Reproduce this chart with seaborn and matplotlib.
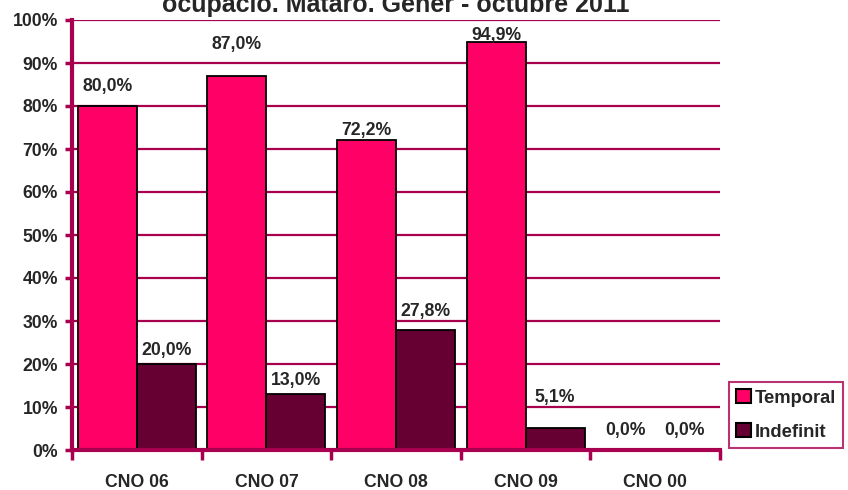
import matplotlib
matplotlib.use("Agg")
import matplotlib.pyplot as plt
import seaborn as sns
import pandas as pd
import numpy as np

# Contract type by occupation group (CNO), share of contracts
categories = ["CNO 06", "CNO 07", "CNO 08", "CNO 09", "CNO 00"]
temporal = [80.0, 87.0, 72.2, 94.9, 0.0]
indefinit = [20.0, 13.0, 27.8, 5.1, 0.0]
series_names = ["Temporal", "Indefinit"]
y_ticks = [0, 10, 20, 30, 40, 50, 60, 70, 80, 90, 100]
title_line = "ocupació. Mataró. Gener - octubre 2011"

sns.set_style("white")
plt.rcParams["font.family"] = ["Liberation Sans", "DejaVu Sans"]
plt.rcParams["font.weight"] = "bold"

grid_col = "#A8004F"
colors = {"Temporal": "#FF0066", "Indefinit": "#660033"}
fs = 12.7

df = pd.DataFrame({
    "cat": categories * 2,
    "serie": [series_names[0]] * len(categories) + [series_names[1]] * len(categories),
    "val": temporal + indefinit,
})

fig = plt.figure(figsize=(8.48, 4.90), dpi=100)
ax = fig.add_axes([72 / 848, 1 - 450 / 490, (720 - 72) / 848, (450 - 20) / 490])

sns.barplot(data=df, x="cat", y="val", hue="serie", order=categories,
            hue_order=series_names, palette=colors, width=0.91,
            edgecolor="black", linewidth=1.3, saturation=1, ax=ax, zorder=3)

ax.set_xlim(-0.5, len(categories) - 0.5)
ax.set_ylim(0, 100)
ax.set_yticks(y_ticks)
ax.set_yticklabels([f"{t}%" for t in y_ticks], fontsize=fs, fontweight="bold")
ax.set_xticks(range(len(categories)))
ax.set_xticklabels(categories, fontsize=fs, fontweight="bold")
ax.set_xticks(np.arange(-0.5, len(categories)), minor=True)
ax.set_xlabel("")
ax.set_ylabel("")

# horizontal gridlines
for t in y_ticks[1:]:
    ax.axhline(t, color=grid_col, lw=1.6, zorder=1)

for s in ["top", "right"]:
    ax.spines[s].set_visible(False)
for s in ["left", "bottom"]:
    ax.spines[s].set_color(grid_col)
    ax.spines[s].set_linewidth(3)
    ax.spines[s].set_zorder(4)

ax.tick_params(axis="y", which="major", direction="out", length=5, width=2.5,
               color=grid_col, pad=5, left=True)
ax.tick_params(axis="x", which="major", length=0, pad=17)
ax.tick_params(axis="x", which="minor", direction="out", length=7, width=2.5,
               color=grid_col, bottom=True)

# value labels above each bar: centre offsets in pixels
offsets = [[19, 31, 9, 6, 20], [14, 14, 19, 31, 20]]
for si, (container, vals) in enumerate(zip(ax.containers, [temporal, indefinit])):
    for bi, (bar, v) in enumerate(zip(container, vals)):
        x = bar.get_x() + bar.get_width() / 2
        ax.annotate(f"{v:.1f}%".replace(".", ","), (x, v),
                    xytext=(0, offsets[si][bi]), textcoords="offset pixels",
                    ha="center", va="center", fontsize=fs, fontweight="bold",
                    zorder=5)

leg = ax.legend(loc="upper left", bbox_to_anchor=(729 / 848, 1 - 382 / 490),
                bbox_transform=fig.transFigure, frameon=True, fancybox=False,
                fontsize=fs + 0.5, handlelength=0.8, handleheight=0.8,
                handletextpad=0.2, labelspacing=0.9, borderpad=0.4,
                borderaxespad=0)
leg.get_frame().set_edgecolor(grid_col)
leg.get_frame().set_linewidth(1.5)
for txt in leg.get_texts():
    txt.set_fontweight("bold")
for h in leg.legend_handles:
    h.set_edgecolor("black")
    h.set_linewidth(1.5)

fig.text(396 / 848, 1 - 12 / 490, title_line, ha="center", va="baseline",
         fontsize=18, fontweight="bold")

fig.savefig("out.png", dpi=100)
